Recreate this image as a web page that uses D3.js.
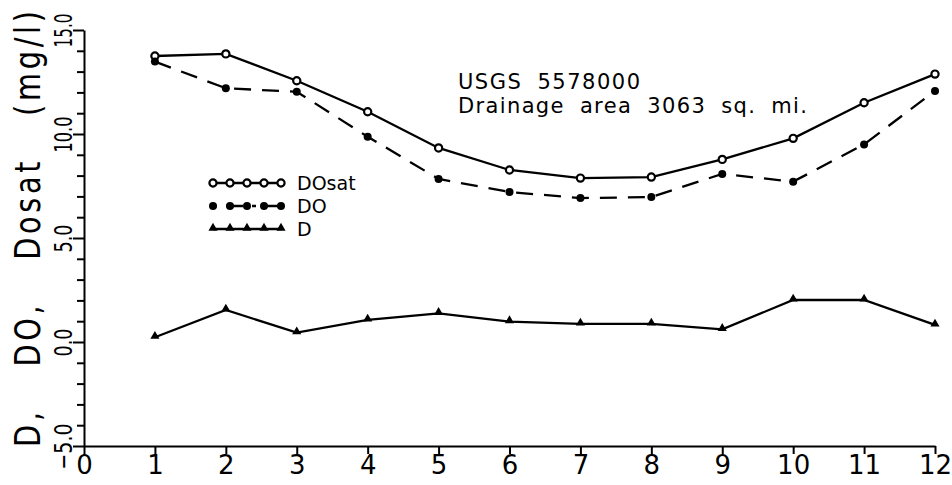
<!DOCTYPE html>
<html>
<head>
<meta charset="utf-8">
<script src="https://cdn.jsdelivr.net/npm/d3@7"></script>
<style>
  html, body { margin: 0; padding: 0; background: #fff; }
  svg { display: block; font-family: "DejaVu Sans", "Liberation Sans", sans-serif; }
</style>
</head>
<body>
<svg id="chart" width="952" height="485"></svg>
<script>
// Monthly dissolved-oxygen summary, USGS station 5578000
const months = [1, 2, 3, 4, 5, 6, 7, 8, 9, 10, 11, 12];
const doSat = [13.75, 13.85, 12.56, 11.07, 9.33, 8.27, 7.88, 7.93, 8.78, 9.79, 11.5, 12.88];
const doObs = [13.48, 12.2, 12.03, 9.87, 7.84, 7.21, 6.92, 6.97, 8.08, 7.71, 9.5, 12.07];
const deficit = [0.23, 1.54, 0.45, 1.06, 1.38, 0.98, 0.87, 0.87, 0.61, 2.02, 2.02, 0.82];

const xTicks = [0, 1, 2, 3, 4, 5, 6, 7, 8, 9, 10, 11, 12];
const yTicks = [-5, -4, -3, -2, -1, 0, 1, 2, 3, 4, 5, 6, 7, 8, 9, 10, 11, 12, 13, 14, 15];
const yLabelValues = [-5, 0, 5, 10, 15];

const yTitle = "D, DO, Dosat (mg/l)";
const stationLines = ["USGS 5578000", "Drainage area 3063 sq. mi."];
const seriesNames = ["DOsat", "DO", "D"];

const svg = d3.select("#chart");
const x = d3.scaleLinear().domain([0, 12]).range([84, 935]);
const y = d3.scaleLinear().domain([-5, 15]).range([446, 30]);

// x axis
const gx = svg.append("g").attr("transform", `translate(0,${y(-5)})`)
  .call(d3.axisBottom(x).tickValues(xTicks).tickSize(8).tickSizeOuter(0).tickFormat(d3.format("d")));
gx.select(".domain").attr("stroke", "#000").attr("stroke-width", 2);
gx.selectAll(".tick line").attr("stroke", "#000").attr("stroke-width", 2);
gx.selectAll(".tick text").attr("font-size", 26).attr("fill", "#000")
  .attr("font-family", "DejaVu Sans, sans-serif").attr("y", 10);

// y axis with rotated labels
const fmt = d3.format(".1f");
const gy = svg.append("g").attr("transform", `translate(${x(0)},0)`)
  .call(d3.axisLeft(y).tickValues(yTicks).tickSize(7).tickSizeOuter(0)
    .tickFormat(v => yLabelValues.includes(v) ? fmt(v) : ""));
gy.select(".domain").attr("stroke", "#000").attr("stroke-width", 2);
gy.selectAll(".tick line").attr("stroke", "#000").attr("stroke-width", 2)
  .attr("x2", v => (v % 5 === 0 ? -11 : -7));
gy.selectAll(".tick text")
  .attr("font-size", 25).attr("fill", "#000").attr("font-family", "DejaVu Sans, sans-serif")
  .attr("text-anchor", "middle").attr("x", 0).attr("y", -12).attr("dy", 0)
  .attr("transform", "rotate(-90)")
  .attr("textLength", v => (v === 15 ? 34 : Math.abs(v) >= 10 ? 36 : v < 0 ? 46 : 28))
  .attr("lengthAdjust", "spacingAndGlyphs");

// y axis title, narrowed along its reading direction
svg.append("text")
  .attr("transform", `translate(40,229) rotate(-90) scale(0.8,1)`)
  .attr("text-anchor", "middle").attr("font-size", 36).attr("fill", "#000")
  .attr("textLength", 545).attr("lengthAdjust", "spacing")
  .style("word-spacing", "36px")
  .text(yTitle);

// series lines
const line = vals => d3.line().x((d, i) => x(months[i])).y(d => y(d))(vals);

svg.append("path").attr("d", line(doSat)).attr("fill", "none")
  .attr("stroke", "#000").attr("stroke-width", 2.3);
svg.append("path").attr("d", line(doObs)).attr("fill", "none")
  .attr("stroke", "#000").attr("stroke-width", 2.3).attr("stroke-dasharray", "17,11");
svg.append("path").attr("d", line(deficit)).attr("fill", "none")
  .attr("stroke", "#000").attr("stroke-width", 2.3);

// markers
const tri = d3.symbol().type(d3.symbolTriangle).size(36);
function drawMarkers(g, kind, xs, ys) {
  if (kind === "open") {
    g.selectAll("circle").data(xs).join("circle")
      .attr("cx", (d, i) => xs[i]).attr("cy", (d, i) => ys[i]).attr("r", 3.6)
      .attr("fill", "#fff").attr("stroke", "#000").attr("stroke-width", 2.2);
  } else if (kind === "filled") {
    g.selectAll("circle").data(xs).join("circle")
      .attr("cx", (d, i) => xs[i]).attr("cy", (d, i) => ys[i]).attr("r", 4)
      .attr("fill", "#000");
  } else {
    g.selectAll("path").data(xs).join("path")
      .attr("d", tri).attr("transform", (d, i) => `translate(${xs[i]},${ys[i] - 1})`)
      .attr("fill", "#000");
  }
}
drawMarkers(svg.append("g"), "open", months.map(x), doSat.map(y));
drawMarkers(svg.append("g"), "filled", months.map(x), doObs.map(y));
drawMarkers(svg.append("g"), "tri", months.map(x), deficit.map(y));

// station annotation
svg.append("text").attr("x", 458).attr("y", 89).attr("font-size", 21).attr("fill", "#000")
  .style("word-spacing", "7px")
  .attr("textLength", 182).attr("lengthAdjust", "spacing").text(stationLines[0]);
svg.append("text").attr("x", 458).attr("y", 113).attr("font-size", 21).attr("fill", "#000")
  .style("word-spacing", "7px")
  .attr("textLength", 349).attr("lengthAdjust", "spacing").text(stationLines[1]);

// legend
const legX0 = 213, legX1 = 282, legText = 297;
const legRows = [183, 206, 229];
const legMarkX = [213, 230, 247, 264, 281];
const styles = [
  { dash: null, kind: "open" },
  { dash: "4,9,17,9", kind: "filled" },
  { dash: null, kind: "tri" }
];
legRows.forEach((ly, k) => {
  const g = svg.append("g");
  g.append("line").attr("x1", legX0).attr("x2", legX1).attr("y1", ly).attr("y2", ly)
    .attr("stroke", "#000").attr("stroke-width", 2.3)
    .attr("stroke-dasharray", styles[k].dash);
  drawMarkers(g, styles[k].kind, legMarkX, legMarkX.map(() => ly));
  g.append("text").attr("x", legText).attr("y", ly + 7).attr("font-size", 19)
    .attr("fill", "#000").text(seriesNames[k]);
});
</script>
</body>
</html>
